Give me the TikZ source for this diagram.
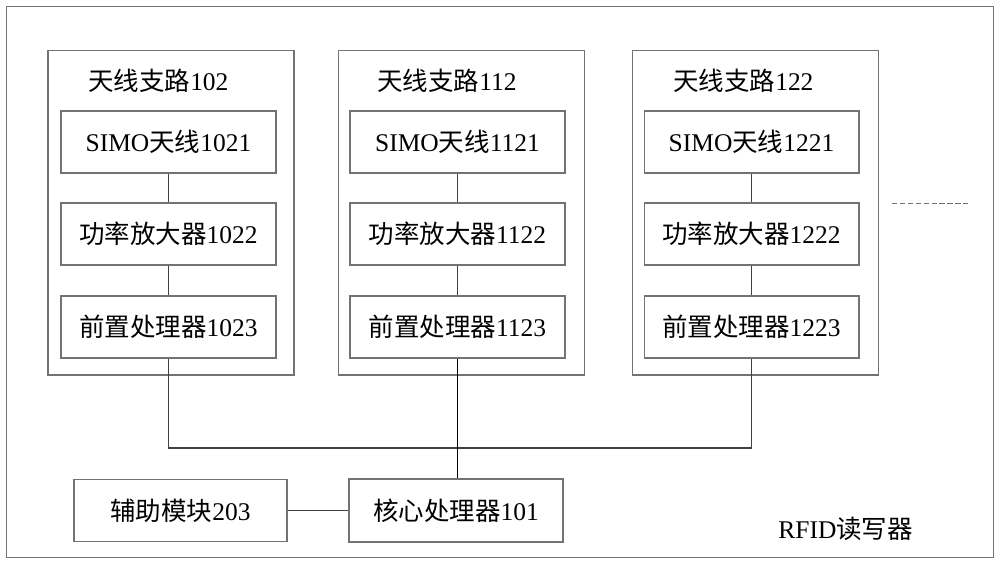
\documentclass[tikz,border=0pt]{standalone}
\usepackage{fontspec}
\setmainfont{Liberation Serif}
\newfontfamily\cjk{Noto Sans CJK SC}
\newcommand\zh[1]{{\cjk #1}}
\begin{document}
\begin{tikzpicture}[x=0.02cm,y=-0.02cm,
  box/.style={draw=black!55, line width=0.6pt, rectangle, inner sep=0pt},
  branchbox/.style={box, minimum width=4.92cm, minimum height=6.5cm},
  unitbox/.style={box, minimum width=4.3cm, minimum height=1.24cm, font=\fontsize{14.5}{16}\selectfont},
  title/.style={anchor=west, inner sep=0pt, font=\fontsize{14.5}{16}\selectfont},
  wire/.style={draw=black!75, line width=0.6pt}]
\useasboundingbox (0,0) rectangle (1000,566);
\node[box, minimum width=19.76cm, minimum height=11.04cm] (reader) at (500,282) {};
% branches
\node[branchbox] (b1) at (171,212.5) {};
\node[branchbox] (b2) at (461.5,212.5) {};
\node[branchbox] (b3) at (755.5,212.5) {};
\node[title] (t1) at (88,81) {\zh{天线支路}102};
\node[title] (t2) at (377,81) {\zh{天线支路}112};
\node[title] (t3) at (673,81) {\zh{天线支路}122};
\node[unitbox] (a1) at (168.5,142) {SIMO\zh{天线}1021};
\node[unitbox] (m1) at (168.5,234) {\zh{功率放大器}1022};
\node[unitbox] (p1) at (168.5,327) {\zh{前置处理器}1023};
\node[unitbox] (a2) at (457.5,142) {SIMO\zh{天线}1121};
\node[unitbox] (m2) at (457.5,234) {\zh{功率放大器}1122};
\node[unitbox] (p2) at (457.5,327) {\zh{前置处理器}1123};
\node[unitbox] (a3) at (751.5,142) {SIMO\zh{天线}1221};
\node[unitbox] (m3) at (751.5,234) {\zh{功率放大器}1222};
\node[unitbox] (p3) at (751.5,327) {\zh{前置处理器}1223};
% bottom
\node[unitbox, minimum width=4.28cm, minimum height=1.26cm] (core) at (456,510.5) {\zh{核心处理器}101};
\node[unitbox, minimum width=4.26cm] (aux) at (180.5,510.5) {\zh{辅助模块}203};
\node[title] (rfid) at (778,529) {RFID\zh{读写器}};
% connectors
\draw[wire] (a1) -- (m1); \draw[wire] (m1) -- (p1);
\draw[wire] (a2) -- (m2); \draw[wire] (m2) -- (p2);
\draw[wire] (a3) -- (m3); \draw[wire] (m3) -- (p3);
\coordinate (bus) at (457,448);
\draw[wire] (p1.south) |- (bus) -| (p3.south);
\draw[wire, draw=black] (p2.south) -- (p2.south |- core.north);
\draw[wire] (aux) -- (core);
\coordinate (d1) at (892,203);
\coordinate (d2) at (971,203);
\draw[draw=black!55, line width=0.5pt, dash pattern=on 3pt off 1.5pt] (d1) -- (d2);
\end{tikzpicture}
\end{document}
